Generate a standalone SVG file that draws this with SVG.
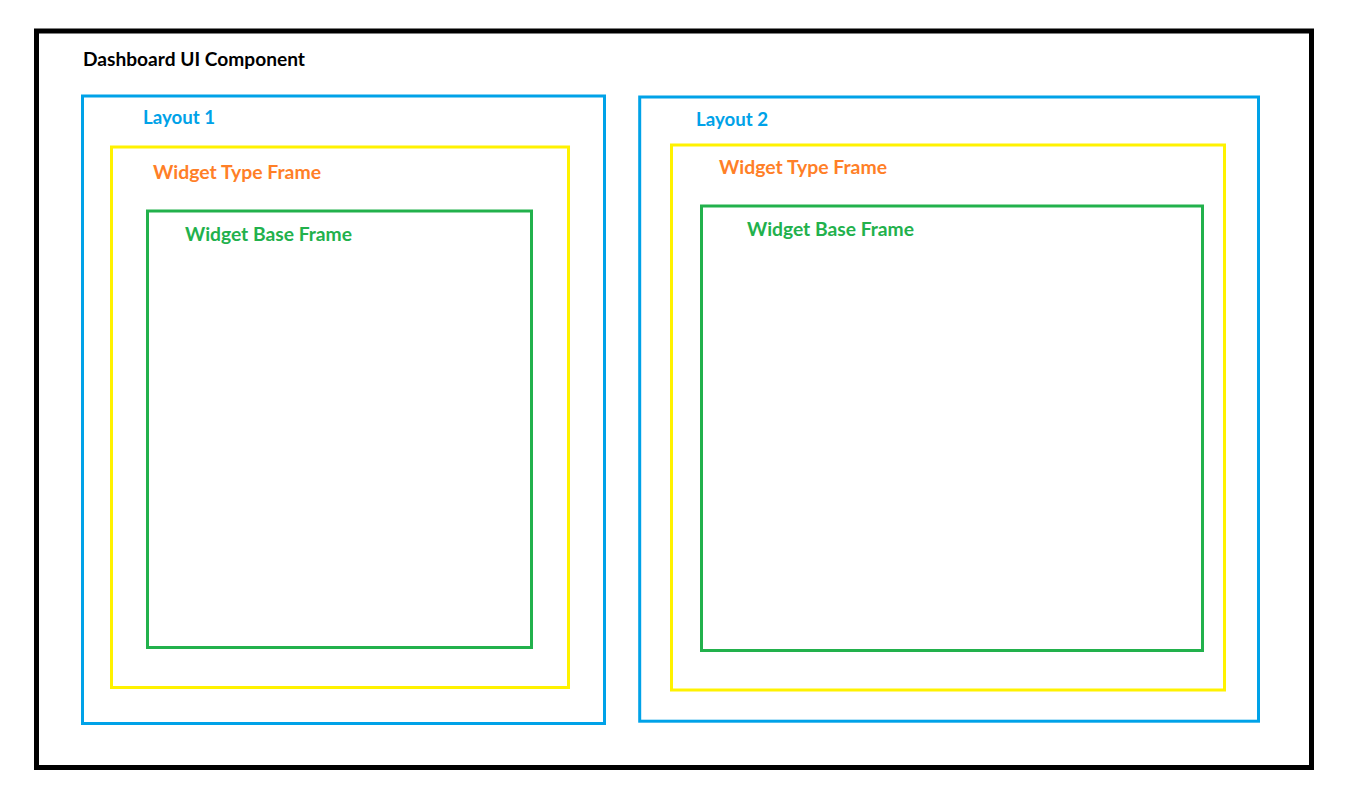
<svg xmlns="http://www.w3.org/2000/svg" width="1370" height="807" viewBox="0 0 1370 807">
<style>
.frame{fill:none}
.outer{stroke:#000;stroke-width:5}
.layout{stroke:#00A2E8;stroke-width:3}
.wtype{stroke:#FFF200;stroke-width:3}
.wbase{stroke:#22B14C;stroke-width:3}
text{font-family:Lato,"Open Sans","Liberation Sans",sans-serif;font-weight:bold;font-size:18.5px}
.t-outer{fill:#000}
.t-layout{fill:#00A2E8}
.t-wtype{fill:#FF7F27}
.t-wbase{fill:#22B14C}
</style>
<rect width="1370" height="807" fill="#fff"/>
<g id="dashboard">
<rect class="frame outer" x="36.5" y="31" width="1275" height="736.5"/>
<text class="t-outer" x="83" y="65.7" textLength="222" lengthAdjust="spacingAndGlyphs">Dashboard UI Component</text>
</g>
<g id="layout1">
<rect class="frame layout" x="82.5" y="96" width="522" height="627.5"/>
<text class="t-layout" x="143" y="124" textLength="72" lengthAdjust="spacingAndGlyphs">Layout 1</text>
</g>
<g id="layout1-widget-type">
<rect class="frame wtype" x="111.5" y="147" width="457" height="540.5"/>
<text class="t-wtype" x="153" y="179" textLength="168" lengthAdjust="spacingAndGlyphs">Widget Type Frame</text>
</g>
<g id="layout1-widget-base">
<rect class="frame wbase" x="147.5" y="211" width="384" height="436.5"/>
<text class="t-wbase" x="185" y="240.7" textLength="167" lengthAdjust="spacingAndGlyphs">Widget Base Frame</text>
</g>
<g id="layout2">
<rect class="frame layout" x="639.7" y="97" width="618.8" height="624.2"/>
<text class="t-layout" x="696" y="125.7" textLength="72" lengthAdjust="spacingAndGlyphs">Layout 2</text>
</g>
<g id="layout2-widget-type">
<rect class="frame wtype" x="671.5" y="145" width="553" height="545"/>
<text class="t-wtype" x="719" y="174.3" textLength="168" lengthAdjust="spacingAndGlyphs">Widget Type Frame</text>
</g>
<g id="layout2-widget-base">
<rect class="frame wbase" x="701.5" y="206" width="501" height="444.5"/>
<text class="t-wbase" x="747" y="235.7" textLength="167" lengthAdjust="spacingAndGlyphs">Widget Base Frame</text>
</g>
<g id="connectors"></g>
</svg>
